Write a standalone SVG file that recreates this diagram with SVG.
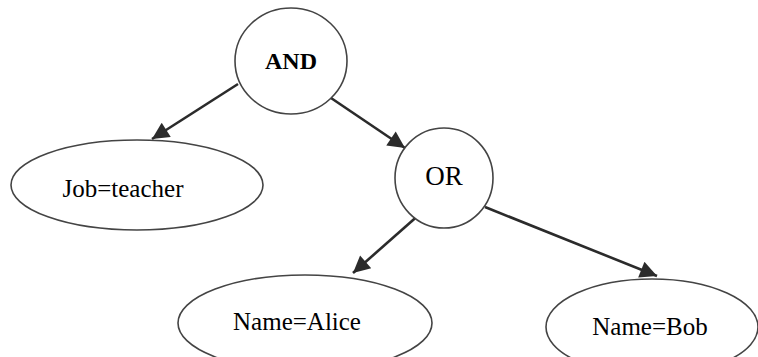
<svg xmlns="http://www.w3.org/2000/svg" width="758" height="357" viewBox="0 0 758 357">
<defs>
<style>
.node ellipse{fill:#fff;stroke:#444;stroke-width:1.6}
.node text{font-family:"Liberation Serif",serif;font-size:25px;fill:#000;text-anchor:middle}
.edges line{stroke:#2b2b2b;stroke-width:2.6}
</style>
<marker id="ah" viewBox="0 0 10 10" refX="10" refY="5" markerWidth="7.5" markerHeight="6.5" markerUnits="strokeWidth" orient="auto">
<path d="M0,0 L10,5 L0,10 Z" fill="#2b2b2b"/>
</marker>
</defs>
<rect width="758" height="357" fill="#fff"/>
<g class="edges">
<line x1="238" y1="84" x2="152" y2="139" marker-end="url(#ah)"/>
<line x1="331" y1="98" x2="405" y2="148" marker-end="url(#ah)"/>
<line x1="421" y1="213" x2="353" y2="273" marker-end="url(#ah)"/>
<line x1="485" y1="207" x2="657" y2="276" marker-end="url(#ah)"/>
</g>
<g id="and" class="node">
<ellipse cx="291" cy="61" rx="56" ry="53"/>
<text x="291" y="69" style="font-weight:bold;font-size:24px">AND</text>
</g>
<g id="job" class="node">
<ellipse cx="137" cy="185" rx="126" ry="45"/>
<text x="123" y="197">Job=teacher</text>
</g>
<g id="or" class="node">
<ellipse cx="444" cy="178" rx="49" ry="50"/>
<text x="444" y="185" style="font-size:27px">OR</text>
</g>
<g id="alice" class="node">
<ellipse cx="305" cy="323" rx="127" ry="48"/>
<text x="297" y="330">Name=Alice</text>
</g>
<g id="bob" class="node">
<ellipse cx="652" cy="327" rx="106" ry="48"/>
<text x="650" y="335">Name=Bob</text>
</g>
</svg>
